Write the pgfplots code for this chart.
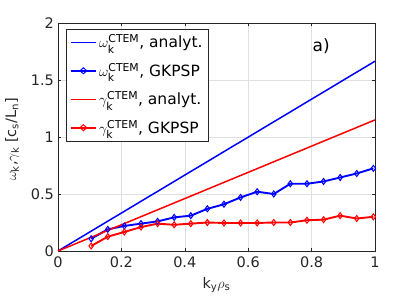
\documentclass[border=0pt]{standalone}
\usepackage{fontspec}
\setmainfont{DejaVu Sans}
\usepackage{amsmath}
\usepackage{pgfplots}
\pgfplotsset{compat=1.18}
\definecolor{axgray}{gray}{0.15}
\definecolor{gridgray}{gray}{0.88}
\definecolor{mblue}{rgb}{0,0,1}
\definecolor{mred}{rgb}{1,0,0}
\newcommand\chfs{\fontsize{14.5}{17}\selectfont}
\newcommand\lgfs{\fontsize{15.5}{18}\selectfont}
\begin{document}
\chfs
\begin{tikzpicture}
\useasboundingbox (-58pt,-50pt) rectangle (357pt,251pt);
\begin{axis}[
  scale only axis, width=317pt, height=228pt,
  at={(0pt,0pt)}, anchor=south west,
  xmin=0, xmax=1, ymin=0, ymax=2,
  xtick={0,0.2,0.4,0.6,0.8,1},
  ytick={0,0.5,1,1.5,2},
  xticklabels={0,0.2,0.4,0.6,0.8,1},
  yticklabels={0,0.5,1,1.5,2},
  /pgf/number format/assume math mode=true,
  tick align=inside,
  major tick length=3pt,
  tick style={axgray, line width=0.4pt},
  axis line style={axgray, line width=0.6pt},
  grid=major,
  major grid style={gridgray, line width=0.5pt},
  tick label style={font=\chfs, text=axgray},
  xticklabel style={yshift=-1pt},
  yticklabel style={xshift=1pt},
  xlabel={k$_{\text{y}}\rho_{\text{s}}$},
  ylabel={$\omega_{\text{k}}$,$\gamma_{\text{k}}$ [c$_{\text{s}}$/L$_{\text{n}}$]},
  xlabel style={at={(axis description cs:0.5,-0.149)}, anchor=center, font=\chfs, text=axgray},
  ylabel style={at={(axis description cs:-0.145,0.49)}, anchor=center, font=\chfs, text=axgray},
  legend style={at={(axis description cs:0.025,0.974)}, anchor=north west,
     draw=axgray, fill=white, font=\lgfs,
     row sep=9pt, inner sep=3.5pt, cells={anchor=west}},
  legend image post style={xscale=1.5},
]
\addplot[color=mblue, draw=mblue, line width=1.5pt, mark=none] coordinates {(0,0) (1,1.665)};
\addlegendentry{$\omega_{\text{k}}^{\text{CTEM}}$, analyt.}
\addplot[color=mblue, line width=1.9pt, mark=diamond, mark size=3pt, mark options={solid, line width=1pt}] coordinates {
(0.1047,0.108) (0.1571,0.19) (0.2094,0.22) (0.2618,0.24) (0.3142,0.26) (0.3665,0.295)
(0.4189,0.31) (0.4712,0.37) (0.5236,0.41) (0.5760,0.47) (0.6283,0.52) (0.6807,0.50)
(0.7330,0.59) (0.7854,0.59) (0.8378,0.61) (0.8901,0.645) (0.9425,0.68) (0.9948,0.725)};
\addlegendentry{$\omega_{\text{k}}^{\text{CTEM}}$, GKPSP}
\addplot[color=mred, draw=mred, line width=1.5pt, mark=none] coordinates {(0,0) (1,1.15)};
\addlegendentry{$\gamma_{\text{k}}^{\text{CTEM}}$, analyt.}
\addplot[color=mred, line width=1.9pt, mark=diamond, mark size=3pt, mark options={solid, line width=1pt}] coordinates {
(0.1047,0.044) (0.1571,0.126) (0.2094,0.167) (0.2618,0.21) (0.3142,0.24) (0.3665,0.23)
(0.4189,0.24) (0.4712,0.25) (0.5236,0.246) (0.5760,0.246) (0.6283,0.246) (0.6807,0.25)
(0.7330,0.25) (0.7854,0.27) (0.8378,0.275) (0.8901,0.31) (0.9425,0.285) (0.9948,0.30)};
\addlegendentry{$\gamma_{\text{k}}^{\text{CTEM}}$, GKPSP}
\node[font=\fontsize{17}{20}\selectfont, text=black] at (axis cs:0.83,1.80) {a)};
\end{axis}
\end{tikzpicture}
\end{document}
